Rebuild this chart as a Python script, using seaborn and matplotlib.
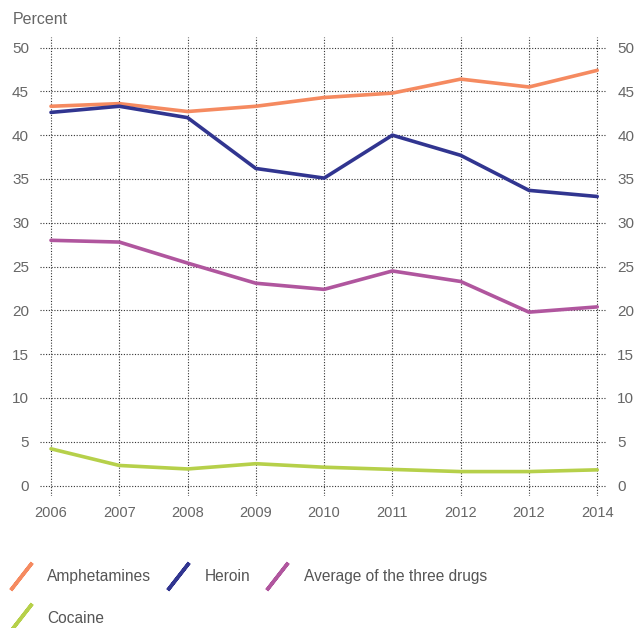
import matplotlib
matplotlib.use("Agg")
import matplotlib.pyplot as plt
import seaborn as sns
import pandas as pd
from matplotlib.lines import Line2D

years = ["2006", "2007", "2008", "2009", "2010", "2011", "2012", "2012", "2014"]
amphetamines = [43.3, 43.6, 42.7, 43.3, 44.3, 44.8, 46.4, 45.5, 47.4]
heroin = [42.6, 43.3, 42.0, 36.2, 35.1, 40.0, 37.7, 33.7, 33.0]
average = [28.0, 27.8, 25.4, 23.1, 22.4, 24.5, 23.3, 19.8, 20.4]
cocaine = [4.2, 2.3, 1.9, 2.5, 2.1, 1.85, 1.6, 1.6, 1.8]

series_names = ["Amphetamines", "Heroin", "Average of the three drugs", "Cocaine"]
series_values = [amphetamines, heroin, average, cocaine]
colors = ["#F58A60", "#313590", "#B0569E", "#B6D04A"]
yticks = [0, 5, 10, 15, 20, 25, 30, 35, 40, 45, 50]

rows = []
for name, vals in zip(series_names, series_values):
    for i, v in enumerate(vals):
        rows.append({"pos": i, "value": v, "series": name})
df = pd.DataFrame(rows)

sns.set_theme(style="white")
plt.rcParams["font.family"] = ["Liberation Sans", "DejaVu Sans"]

fig = plt.figure(figsize=(6.36, 6.28), dpi=100)
ax = fig.add_axes([0.063, 0.210, 0.890, 0.731])

sns.lineplot(data=df, x="pos", y="value", hue="series", hue_order=series_names,
             palette=colors, linewidth=2.6, legend=False, ax=ax, sort=False)

ax.set_xlim(-0.16, 8.13)
ax.set_ylim(-1.2, 51.2)
ax.set_xticks(range(len(years)))
ax.set_xticklabels(years)
ax.set_yticks(yticks)
ax.set_yticklabels([str(t) for t in yticks])
ax.set_xlabel("")
ax.set_ylabel("")
for s in ax.spines.values():
    s.set_visible(False)
ax.grid(True, linestyle=(0, (1, 1.5)), color="#333333", linewidth=0.8)
ax.tick_params(axis="both", length=0, labelcolor="#666666")
ax.tick_params(axis="y", labelright=True, pad=8, labelsize=11)
ax.tick_params(axis="x", pad=7, labelsize=10.5)

fig.text(13 / 636, 1 - 19 / 628, "Percent", fontsize=11.5, color="#666666",
         va="center", ha="left")

handles = [Line2D([], [], linestyle="none", marker=(2, 2, -38), markersize=25,
                  markeredgewidth=2.6, color=c) for c in colors]
order = [0, 3, 1, 2]
leg = fig.legend([handles[i] for i in order], [series_names[i] for i in order],
                 loc="upper left", bbox_to_anchor=(9 / 636, 0.0933), ncol=3,
                 frameon=False, fontsize=11.2, labelcolor="#555555",
                 borderpad=0, borderaxespad=0,
                 handlelength=1.5, handletextpad=0.97, columnspacing=0.95,
                 labelspacing=1.7)

fig.savefig("out.png", dpi=100)
